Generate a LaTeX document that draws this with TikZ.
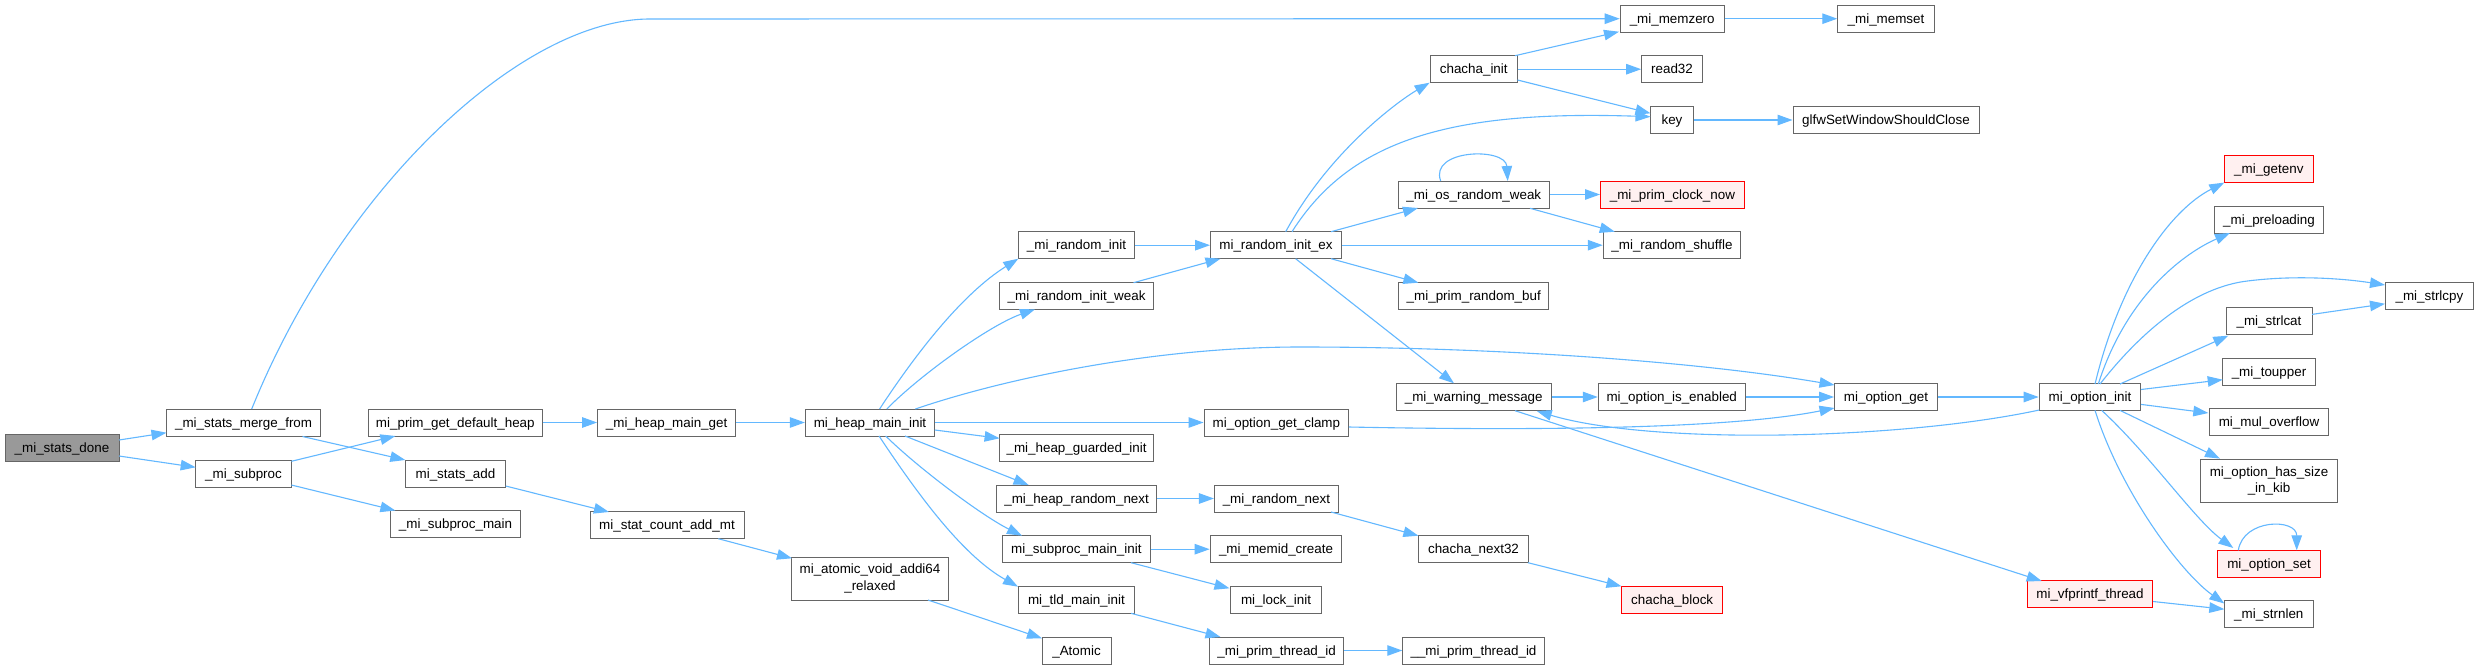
\documentclass[tikz,border=0pt]{standalone}
\usepackage{fontspec}
\setmainfont{Liberation Sans}
\usetikzlibrary{arrows.meta,calc}
\definecolor{edgec}{HTML}{63B8FF}
\definecolor{nodeb}{HTML}{666666}
\definecolor{rootf}{HTML}{999999}
\definecolor{redf}{HTML}{FFF0F0}
\definecolor{redb}{HTML}{FF0000}
\begin{document}
\begin{tikzpicture}[x=1pt,y=-1pt,
  box/.style={draw=nodeb, fill=white, line width=1pt, rectangle, inner sep=0pt,
    minimum height=27pt, text height=12pt, text depth=3pt,
    font=\fontsize{13.4pt}{16pt}\selectfont},
  rootbox/.style={box, fill=rootf},
  redbox/.style={box, draw=redb, fill=redf},
  twobox/.style={draw=nodeb, fill=white, line width=1pt, rectangle, inner sep=0pt,
    minimum height=43pt, align=center, font=\fontsize{13.4pt}{16.5pt}\selectfont},
  conn/.style={draw=edgec, line width=1.1pt, -{Triangle[length=15pt,width=10.5pt]}}]
\fill[white] (0,0) rectangle (2479,669);
\useasboundingbox (0,0) rectangle (2479,669);

% ---- nodes
\node[rootbox,minimum width=114] (done) at (62,447.5) {\_mi\_stats\_done};
\node[box,minimum width=154] (merge) at (243.6,422.5) {\_mi\_stats\_merge\_from};
\node[box,minimum width=96] (subproc) at (243.5,473.5) {\_mi\_subproc};
\node[box,minimum width=173.5] (getheap) at (455.3,422.5) {mi\_prim\_get\_default\_heap};
\node[box,minimum width=100] (statsadd) at (455.5,473.5) {mi\_stats\_add};
\node[box,minimum width=130.5] (subprocmain) at (455.5,524) {\_mi\_subproc\_main};
\node[box,minimum width=138] (heapmainget) at (666.6,422.5) {\_mi\_heap\_main\_get};
\node[box,minimum width=154] (statcount) at (667,525) {mi\_stat\_count\_add\_mt};
\node[box,minimum width=129.4] (heapmaininit) at (870,422.5) {mi\_heap\_main\_init};
\node[twobox,minimum width=157.5] (atomicadd) at (870,578.5) {mi\_atomic\_void\_addi64\\\_relaxed};
\node[box,minimum width=116.5] (randinit) at (1076.5,245.2) {\_mi\_random\_init};
\node[box,minimum width=154] (randweak) at (1076.6,296) {\_mi\_random\_init\_weak};
\node[box,minimum width=154] (guarded) at (1076.6,447.6) {\_mi\_heap\_guarded\_init};
\node[box,minimum width=159.3] (heaprandnext) at (1076.6,498.5) {\_mi\_heap\_random\_next};
\node[box,minimum width=147.3] (subprocmaininit) at (1076.4,549.2) {mi\_subproc\_main\_init};
\node[box,minimum width=116] (tldmain) at (1076.4,600) {mi\_tld\_main\_init};
\node[box,minimum width=69] (atomic) at (1076.5,650.5) {\_Atomic};
\node[box,minimum width=131] (randinitex) at (1276,245.2) {mi\_random\_init\_ex};
\node[box,minimum width=144.75] (clamp) at (1276.4,422.5) {mi\_option\_get\_clamp};
\node[box,minimum width=124] (randnext) at (1276.4,498.5) {\_mi\_random\_next};
\node[box,minimum width=131.7] (memid) at (1276,549.2) {\_mi\_memid\_create};
\node[box,minimum width=90.7] (lockinit) at (1276,600) {mi\_lock\_init};
\node[box,minimum width=134.4] (primthread) at (1276.6,650.5) {\_mi\_prim\_thread\_id};
\node[box,minimum width=87.5] (chachainit) at (1473.75,69.2) {chacha\_init};
\node[box,minimum width=151.6] (osweak) at (1473.8,194.5) {\_mi\_os\_random\_weak};
\node[box,minimum width=150] (randbuf) at (1473.75,296) {\_mi\_prim\_random\_buf};
\node[box,minimum width=154.5] (warning) at (1473.75,397) {\_mi\_warning\_message};
\node[box,minimum width=109.4] (next32) at (1473.5,549.2) {chacha\_next32};
\node[box,minimum width=141.5] (pthread2) at (1473.5,650.5) {\_\_mi\_prim\_thread\_id};
\node[box,minimum width=104] (memzero) at (1672.2,18.7) {\_mi\_memzero};
\node[box,minimum width=60.7] (read32) at (1672,69.2) {read32};
\node[box,minimum width=43] (key) at (1672,120) {key};
\node[redbox,minimum width=143.8] (clocknow) at (1672.4,194.5) {\_mi\_prim\_clock\_now};
\node[box,minimum width=137.5] (shuffle) at (1672,245.2) {\_mi\_random\_shuffle};
\node[box,minimum width=147] (optenabled) at (1671.75,397) {mi\_option\_is\_enabled};
\node[redbox,minimum width=101.4] (chachablock) at (1672.2,600) {chacha\_block};
\node[box,minimum width=96.5] (memset) at (1886,18.7) {\_mi\_memset};
\node[box,minimum width=186] (glfw) at (1886,120) {glfwSetWindowShouldClose};
\node[box,minimum width=103] (optget) at (1886,397) {mi\_option\_get};
\node[box,minimum width=101.7] (optinit) at (2090,397) {mi\_option\_init};
\node[redbox,minimum width=125.7] (vfprintf) at (2090,594.3) {mi\_vfprintf\_thread};
\node[redbox,minimum width=89] (getenv) at (2268.8,169.2) {\_mi\_getenv};
\node[box,minimum width=108.6] (preloading) at (2269,220) {\_mi\_preloading};
\node[box,minimum width=86] (strlcat) at (2269,321.3) {\_mi\_strlcat};
\node[box,minimum width=92.6] (toupper) at (2269,371.8) {\_mi\_toupper};
\node[box,minimum width=119.7] (muloverflow) at (2269,422.2) {mi\_mul\_overflow};
\node[twobox,minimum width=136.6] (hassize) at (2269,481) {mi\_option\_has\_size\\\_in\_kib};
\node[redbox,minimum width=102.6] (optset) at (2269,563.8) {mi\_option\_set};
\node[box,minimum width=89] (strnlen) at (2268.8,614.3) {\_mi\_strnlen};
\node[box,minimum width=88.7] (strlcpy) at (2429.4,295.9) {\_mi\_strlcpy};

% ---- connectors
\draw[conn] ($(done)+(57,-7.5)$) -- ($(merge)+(-77.1,10.2)$);
\draw[conn] ($(done)+(57,8.5)$) -- ($(subproc)+(-47.8,-6.2)$);
\draw[conn] ($(merge)+(8.1,-13.5)$) .. controls +(88.3,-218.5) and +(-130,0) .. ($(memzero)+(-1022.2,0.3)$) -- (memzero.west);
\draw[conn] ($(merge)+(58.9,14)$) -- ($(statsadd)+(-50.2,-13.5)$);
\draw[conn] ($(subproc)+(47.9,-12.2)$) -- ($(getheap)+(-59.9,13.5)$);
\draw[conn] ($(subproc)+(47.9,11.5)$) -- ($(subprocmain)+(-60.1,-13.5)$);
\draw[conn] (getheap.east) -- (heapmainget.west);
\draw[conn] ($(statsadd)+(50.2,12.5)$) -- ($(statcount)+(-58,-13)$);
\draw[conn] (heapmainget.east) -- (heapmaininit.west);
\draw[conn] ($(statcount)+(51.3,13.7)$) -- ($(atomicadd)+(-78,-20.2)$);
\draw[conn] ($(atomicadd)+(58,21.5)$) -- ($(atomic)+(-34.5,-12.2)$);
% mi_heap_main_init fan
\draw[conn] ($(heapmaininit)+(9.6,-13.5)$) .. controls +(36,-55) and +(-56.3,35.3) .. ($(randinit)+(-58.2,13.5)$);
\draw[conn] ($(heapmaininit)+(16.8,-13.5)$) .. controls +(33.2,-34) and +(-45,15.7) .. ($(randweak)+(-41.6,13.3)$);
\draw[conn] ($(heapmaininit)+(45.4,-13.5)$) .. controls +(84.6,-29) and +(-150,0) .. ($(optget)+(-586,-50)$) .. controls +(200,0) and +(-134.5,-23) .. ($(optget)+(-51.5,-12)$);
\draw[conn] (heapmaininit.east) -- (clamp.west);
\draw[conn] ($(heapmaininit)+(64.8,7.5)$) -- ($(guarded)+(-77,-9.3)$);
\draw[conn] ($(heapmaininit)+(35,13.5)$) -- ($(heaprandnext)+(-48,-13.5)$);
\draw[conn] ($(heapmaininit)+(15.7,13.5)$) .. controls +(31.9,31.5) and +(-40.5,-20.2) .. ($(subprocmaininit)+(-54.4,-13.5)$);
\draw[conn] ($(heapmaininit)+(9,13.5)$) .. controls +(36,54) and +(-57,-32) .. ($(tldmain)+(-58.4,-13.3)$);
% column 6
\draw[conn] (randinit.east) -- (randinitex.west);
\draw[conn] ($(randweak)+(56.9,-13.3)$) -- ($(randinitex)+(-55.5,13.5)$);
\draw[conn] (heaprandnext.east) -- (randnext.west);
\draw[conn] (subprocmaininit.east) -- (memid.west);
\draw[conn] ($(subprocmaininit)+(54.6,13.5)$) -- ($(lockinit)+(-46.5,-11.7)$);
\draw[conn] ($(tldmain)+(54.6,13.3)$) -- ($(primthread)+(-56.1,-13.5)$);
% mi_random_init_ex fan
\draw[conn] ($(randinitex)+(9.7,-13.5)$) .. controls +(44.3,-81.7) and +(-29.6,17.3) .. ($(chachainit)+(-44.15,13.5)$);
\draw[conn] ($(randinitex)+(16,-13.5)$) .. controls +(58,-91.7) and +(-200.5,-6.7) .. ($(key)+(-21.5,-3.3)$);
\draw[conn] ($(randinitex)+(55,-13.5)$) -- ($(osweak)+(-55.8,13.5)$);
\draw[conn] (randinitex.east) -- (shuffle.west);
\draw[conn] ($(randinitex)+(55,13.5)$) -- ($(randbuf)+(-55.35,-13.3)$);
\draw[conn] ($(randinitex)+(19.6,13.5)$) -- ($(warning)+(-19.75,-13.7)$);
% chacha_init
\draw[conn] ($(chachainit)+(41.25,-13.5)$) -- ($(memzero)+(-53.2,13)$);
\draw[conn] (chachainit.east) -- (read32.west);
\draw[conn] ($(chachainit)+(43.75,10.8)$) -- ($(key)+(-21.5,-6.7)$);
\draw[conn] (key.east) -- (glfw.west);
\draw[conn] (memzero.east) -- (memset.west);
% _mi_os_random_weak
\draw[conn] ($(osweak)+(-33.1,-13.5)$) .. controls +(-12,-32) and +(-2,-34) .. ($(osweak)+(33.9,-13.5)$);
\draw[conn] (osweak.east) -- (clocknow.west);
\draw[conn] ($(osweak)+(56.2,13.8)$) -- ($(shuffle)+(-57.2,-13.5)$);
% random next etc
\draw[conn] ($(randnext)+(54.6,13.5)$) -- ($(next32)+(-55.1,-13.5)$);
\draw[conn] ($(next32)+(54.5,13.5)$) -- ($(chachablock)+(-50.7,-13.7)$);
\draw[conn] (primthread.east) -- (pthread2.west);
% options
\draw[conn] ($(clamp)+(72.35,4.5)$) .. controls +(251.25,5) and +(-84.5,17) .. ($(optget)+(-51.5,11)$);
\draw[conn] (warning.east) -- (optenabled.west);
\draw[conn] ($(warning)+(41.25,13.7)$) -- ($(vfprintf)+(-48.3,-13.3)$);
\draw[conn] (optenabled.east) -- (optget.west);
\draw[conn] (optget.east) -- (optinit.west);
\draw[conn] ($(optinit)+(-50.7,13)$) .. controls +(-139.3,30) and +(113.3,34) .. ($(warning)+(62.95,14)$);
% mi_option_init fan
\draw[conn] ($(optinit)+(5,-13)$) .. controls +(25,-104) and +(-54.3,27.4) .. ($(getenv)+(-44.5,13.4)$);
\draw[conn] ($(optinit)+(8.3,-13)$) .. controls +(26.7,-84) and +(-50,22) .. ($(preloading)+(-39,13)$);
\draw[conn] ($(optinit)+(10,-13)$) .. controls +(40,-51) and +(-53,8.4) .. ($(strlcpy)+(-186.4,-14.3)$) .. controls +(47,-6.6) and +(-45,-7) .. ($(strlcpy)+(-44.4,-10.9)$);
\draw[conn] ($(optinit)+(30,-13)$) -- ($(strlcat)+(-40.7,14.4)$);
\draw[conn] ($(optinit)+(51,-7.5)$) -- ($(toupper)+(-46.3,7.9)$);
\draw[conn] ($(optinit)+(51,7.4)$) -- ($(muloverflow)+(-60.7,-9.2)$);
\draw[conn] ($(optinit)+(30,13.4)$) -- ($(hassize)+(-49,-22.4)$);
\draw[conn] ($(optinit)+(11.7,13.4)$) .. controls +(48.3,44.6) and +(-38.3,-28) .. ($(optset)+(-35.7,-15.8)$);
\draw[conn] ($(optinit)+(5,13.4)$) .. controls +(25,79.6) and +(-44.3,-31.5) .. ($(strnlen)+(-44.5,-10.8)$);
\draw[conn] ($(strlcat)+(43,-6.9)$) -- ($(strlcpy)+(-44.4,7.9)$);
\draw[conn] ($(optset)+(-30.7,-13.5)$) .. controls +(5,-32) and +(0,-32) .. ($(optset)+(27.7,-13.5)$);
\draw[conn] ($(vfprintf)+(63,7.2)$) -- ($(strnlen)+(-44.5,-5.1)$);
\end{tikzpicture}
\end{document}
